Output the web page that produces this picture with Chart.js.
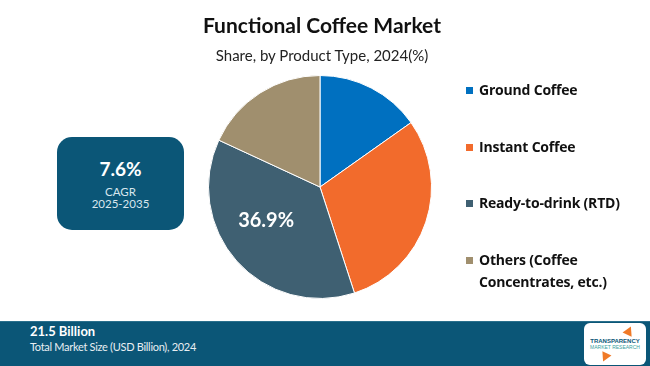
<!DOCTYPE html>
<html>
<head>
<meta charset="utf-8">
<script src="https://cdn.jsdelivr.net/npm/chart.js@4.4.1/dist/chart.umd.min.js"></script>
<style>
  body { margin: 0; width: 650px; height: 366px; overflow: hidden; background: #fff; font-family: Lato, "Open Sans", sans-serif; position: relative; }
  #chart { position: absolute; left: 0; top: 0; }
  .title { position: absolute; top: 12px; left: 0; width: 644px; text-align: center; font: bold 21px Lato, sans-serif; color: #111; }
  .subtitle { position: absolute; top: 46px; left: 0; width: 644px; text-align: center; font: 15px Lato, sans-serif; color: #222; }
  .legend { position: absolute; left: 466px; top: 0; }
  .legend .item { position: absolute; left: 0; width: 180px; font: bold 14px "Open Sans", Lato, sans-serif; color: #111; line-height: 22px; letter-spacing: -0.2px; }
  .legend .sw { position: absolute; left: 0; top: 8px; width: 7px; height: 7px; }
  .legend .txt { margin-left: 13px; display: block; }
  .cagr { position: absolute; left: 57px; top: 137px; width: 127px; height: 93px; border-radius: 15px; background: #0b5677; color: #fff; text-align: center; }
  .cagr .v { font: bold 19px Lato, sans-serif; margin-top: 20px; }
  .cagr .l { font: 11.5px Lato, sans-serif; color: #d8e6ee; line-height: 12px; margin-top: 6px; }
  .footer { position: absolute; left: 0; top: 321px; width: 650px; height: 45px; background: #0b5677; border-top: 1px solid #2a6f8c; color: #fff; }
  .footer .big { position: absolute; left: 30px; top: 1px; font: bold 13px Lato, sans-serif; }
  .footer .small { position: absolute; left: 30px; top: 18px; font: 11px Lato, sans-serif; color: #e8eef2; letter-spacing: -0.3px; }
  .logo { position: absolute; left: 584px; top: 1px; width: 62px; height: 42px; background: #fff; border-radius: 6px; text-align: center; overflow: hidden; }
  .logo .a { font: bold 6px Arial, sans-serif; color: #0b5677; margin-top: 15px; }
  .logo .b { font: 5px Arial, sans-serif; color: #3aa0a0; }
  .logo .up { position: absolute; left: 40px; top: 3px; width: 0; height: 0; border-left: 5px solid transparent; border-right: 5px solid transparent; border-bottom: 9px solid #f07a28; transform: rotate(25deg); }
  .logo .dn { position: absolute; left: 16px; top: 30px; width: 0; height: 0; border-left: 5px solid transparent; border-right: 5px solid transparent; border-top: 9px solid #f07a28; transform: rotate(25deg); }
</style>
</head>
<body>
<canvas id="chart" width="650" height="366"></canvas>
<div class="title">Functional Coffee Market</div>
<div class="subtitle">Share, by Product Type, 2024(%)</div>
<div class="legend" id="legend"></div>
<div class="cagr"><div class="v">7.6%</div><div class="l">CAGR<br>2025-2035</div></div>
<div class="footer">
  <div class="big">21.5 Billion</div>
  <div class="small">Total Market Size (USD Billion), 2024</div>
  <div class="logo"><span class="up"></span><span class="dn"></span><div class="a">TRANSPARENCY</div><div class="b">MARKET RESEARCH</div></div>
</div>
<script>
// Product type shares (%)
const categories = ['Ground Coffee', 'Instant Coffee', 'Ready-to-drink (RTD)', 'Others (Coffee Concentrates, etc.)'];
const shares = [15.2, 29.8, 36.9, 18.1];
const colors = ['#0070c0', '#f26b2c', '#3f6072', '#a08f6e'];
const shownLabel = [false, false, true, false];

// legend built from the same arrays
const legendTops = [79, 136, 192, 249];
const legendLabels = ['Ground Coffee', 'Instant Coffee', 'Ready-to-drink (RTD)', 'Others (Coffee<br>Concentrates, etc.)'];
const legend = document.getElementById('legend');
categories.forEach((c, i) => {
  const d = document.createElement('div');
  d.className = 'item';
  d.style.top = legendTops[i] + 'px';
  d.innerHTML = `<span class="sw" style="background:${colors[i]}"></span><span class="txt">${legendLabels[i]}</span>`;
  legend.appendChild(d);
});

// draw value label inside the big slice
const sliceLabels = {
  id: 'sliceLabels',
  afterDatasetsDraw(chart) {
    const ctx = chart.ctx;
    const meta = chart.getDatasetMeta(0);
    meta.data.forEach((arc, i) => {
      if (!shownLabel[i]) return;
      const p = arc.getProps(['x', 'y', 'startAngle', 'endAngle', 'outerRadius']);
      const mid = (p.startAngle + p.endAngle) / 2 + 0.14;
      const r = p.outerRadius * 0.58;
      ctx.save();
      ctx.fillStyle = '#fff';
      ctx.font = 'bold 20px Lato, sans-serif';
      ctx.textAlign = 'center';
      ctx.textBaseline = 'middle';
      ctx.fillText(shares[i].toFixed(1) + '%', p.x + Math.cos(mid) * r, p.y + Math.sin(mid) * r - 2);
      ctx.restore();
    });
  }
};

new Chart(document.getElementById('chart').getContext('2d'), {
  type: 'pie',
  data: {
    labels: categories,
    datasets: [{
      data: shares,
      backgroundColor: colors,
      borderColor: '#ffffff',
      borderWidth: 1
    }]
  },
  options: {
    responsive: false,
    animation: false,
    layout: { padding: { left: 208, right: 218, top: 75, bottom: 67 } },
    plugins: {
      legend: { display: false },
      tooltip: { enabled: false }
    }
  },
  plugins: [sliceLabels]
});
</script>
</body>
</html>
